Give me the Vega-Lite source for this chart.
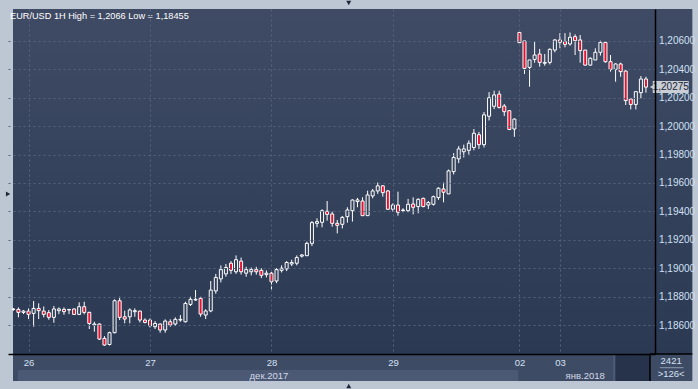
{
  "$schema": "https://vega.github.io/schema/vega-lite/v6.json",
  "width": 647,
  "height": 345,
  "autosize": {"type": "none"},
  "padding": {"left": 8, "top": 9, "right": 43, "bottom": 35},
  "background": "#bdc7d4",
  "config": {"view": {"stroke": null}, "axis": {"labelOverlap": false, "labelSeparation": 0}},
  "title": {"text": "EUR/USD 1H High = 1,2066 Low = 1,18455", "anchor": "start", "frame": "group", "orient": "top", "offset": -20, "dx": 2, "font": "Liberation Sans", "fontSize": 9.2, "fontWeight": "normal", "color": "#ffffff"},
  "data": {"values": [
    {"t":0,"o":1.18710,"h":1.18720,"l":1.18700,"c":1.18712},
    {"t":1,"o":1.18710,"h":1.18724,"l":1.18654,"c":1.18689},
    {"t":2,"o":1.18689,"h":1.18706,"l":1.18677,"c":1.18698},
    {"t":3,"o":1.18698,"h":1.18717,"l":1.18642,"c":1.18675},
    {"t":4,"o":1.18682,"h":1.18769,"l":1.18588,"c":1.18717},
    {"t":5,"o":1.18717,"h":1.18753,"l":1.18642,"c":1.18701},
    {"t":6,"o":1.18698,"h":1.18731,"l":1.18654,"c":1.18675},
    {"t":7,"o":1.18687,"h":1.18706,"l":1.18637,"c":1.18654},
    {"t":8,"o":1.18654,"h":1.18734,"l":1.18616,"c":1.18713},
    {"t":9,"o":1.18701,"h":1.18724,"l":1.18677,"c":1.18713},
    {"t":10,"o":1.18710,"h":1.18724,"l":1.18672,"c":1.18694},
    {"t":11,"o":1.18706,"h":1.18711,"l":1.18677,"c":1.18710},
    {"t":12,"o":1.18713,"h":1.18717,"l":1.18670,"c":1.18675},
    {"t":13,"o":1.18675,"h":1.18760,"l":1.18670,"c":1.18729},
    {"t":14,"o":1.18729,"h":1.18764,"l":1.18675,"c":1.18689},
    {"t":15,"o":1.18689,"h":1.18694,"l":1.18572,"c":1.18611},
    {"t":16,"o":1.18600,"h":1.18623,"l":1.18553,"c":1.18607},
    {"t":17,"o":1.18607,"h":1.18612,"l":1.18494,"c":1.18501},
    {"t":18,"o":1.18506,"h":1.18522,"l":1.18455,"c":1.18459},
    {"t":19,"o":1.18463,"h":1.18553,"l":1.18456,"c":1.18546},
    {"t":20,"o":1.18546,"h":1.18781,"l":1.18541,"c":1.18771},
    {"t":21,"o":1.18771,"h":1.18799,"l":1.18635,"c":1.18654},
    {"t":22,"o":1.18658,"h":1.18701,"l":1.18612,"c":1.18642},
    {"t":23,"o":1.18658,"h":1.18717,"l":1.18612,"c":1.18706},
    {"t":24,"o":1.18694,"h":1.18717,"l":1.18658,"c":1.18701},
    {"t":25,"o":1.18698,"h":1.18701,"l":1.18618,"c":1.18635},
    {"t":26,"o":1.18635,"h":1.18647,"l":1.18612,"c":1.18618},
    {"t":27,"o":1.18635,"h":1.18647,"l":1.18583,"c":1.18595},
    {"t":28,"o":1.18588,"h":1.18628,"l":1.18572,"c":1.18611},
    {"t":29,"o":1.18607,"h":1.18611,"l":1.18546,"c":1.18565},
    {"t":30,"o":1.18565,"h":1.18640,"l":1.18546,"c":1.18628},
    {"t":31,"o":1.18623,"h":1.18640,"l":1.18588,"c":1.18600},
    {"t":32,"o":1.18607,"h":1.18654,"l":1.18593,"c":1.18640},
    {"t":33,"o":1.18635,"h":1.18670,"l":1.18623,"c":1.18640},
    {"t":34,"o":1.18623,"h":1.18764,"l":1.18618,"c":1.18752},
    {"t":35,"o":1.18745,"h":1.18799,"l":1.18734,"c":1.18781},
    {"t":36,"o":1.18776,"h":1.18846,"l":1.18771,"c":1.18781},
    {"t":37,"o":1.18788,"h":1.18799,"l":1.18658,"c":1.18677},
    {"t":38,"o":1.18670,"h":1.18711,"l":1.18642,"c":1.18699},
    {"t":39,"o":1.18699,"h":1.18910,"l":1.18690,"c":1.18846},
    {"t":40,"o":1.18840,"h":1.18960,"l":1.18820,"c":1.18935},
    {"t":41,"o":1.18925,"h":1.19020,"l":1.18900,"c":1.18990},
    {"t":42,"o":1.18960,"h":1.19030,"l":1.18940,"c":1.19005},
    {"t":43,"o":1.19035,"h":1.19050,"l":1.18960,"c":1.18985},
    {"t":44,"o":1.18975,"h":1.19090,"l":1.18960,"c":1.19060},
    {"t":45,"o":1.19050,"h":1.19075,"l":1.18955,"c":1.18975},
    {"t":46,"o":1.18965,"h":1.19010,"l":1.18940,"c":1.18990},
    {"t":47,"o":1.18975,"h":1.19005,"l":1.18950,"c":1.18990},
    {"t":48,"o":1.18990,"h":1.19010,"l":1.18955,"c":1.18975},
    {"t":49,"o":1.18985,"h":1.19000,"l":1.18930,"c":1.18950},
    {"t":50,"o":1.18955,"h":1.18985,"l":1.18935,"c":1.18965},
    {"t":51,"o":1.18965,"h":1.18975,"l":1.18850,"c":1.18905},
    {"t":52,"o":1.18910,"h":1.19000,"l":1.18895,"c":1.18990},
    {"t":53,"o":1.18985,"h":1.19020,"l":1.18970,"c":1.19000},
    {"t":54,"o":1.18995,"h":1.19050,"l":1.18980,"c":1.19040},
    {"t":55,"o":1.19030,"h":1.19060,"l":1.19015,"c":1.19040},
    {"t":56,"o":1.19035,"h":1.19090,"l":1.19020,"c":1.19075},
    {"t":57,"o":1.19085,"h":1.19100,"l":1.19075,"c":1.19093},
    {"t":58,"o":1.19088,"h":1.19187,"l":1.19088,"c":1.19175},
    {"t":59,"o":1.19175,"h":1.19332,"l":1.19156,"c":1.19321},
    {"t":60,"o":1.19316,"h":1.19351,"l":1.19288,"c":1.19328},
    {"t":61,"o":1.19323,"h":1.19415,"l":1.19288,"c":1.19405},
    {"t":62,"o":1.19401,"h":1.19473,"l":1.19335,"c":1.19379},
    {"t":63,"o":1.19382,"h":1.19398,"l":1.19292,"c":1.19316},
    {"t":64,"o":1.19316,"h":1.19340,"l":1.19245,"c":1.19302},
    {"t":65,"o":1.19309,"h":1.19368,"l":1.19280,"c":1.19358},
    {"t":66,"o":1.19363,"h":1.19429,"l":1.19321,"c":1.19410},
    {"t":67,"o":1.19405,"h":1.19485,"l":1.19328,"c":1.19480},
    {"t":68,"o":1.19469,"h":1.19495,"l":1.19429,"c":1.19481},
    {"t":69,"o":1.19473,"h":1.19499,"l":1.19370,"c":1.19370},
    {"t":70,"o":1.19370,"h":1.19546,"l":1.19370,"c":1.19516},
    {"t":71,"o":1.19509,"h":1.19558,"l":1.19492,"c":1.19544},
    {"t":72,"o":1.19544,"h":1.19603,"l":1.19523,"c":1.19580},
    {"t":73,"o":1.19580,"h":1.19584,"l":1.19504,"c":1.19532},
    {"t":74,"o":1.19544,"h":1.19551,"l":1.19410,"c":1.19415},
    {"t":75,"o":1.19415,"h":1.19457,"l":1.19398,"c":1.19445},
    {"t":76,"o":1.19445,"h":1.19539,"l":1.19370,"c":1.19394},
    {"t":77,"o":1.19406,"h":1.19422,"l":1.19394,"c":1.19410},
    {"t":78,"o":1.19405,"h":1.19488,"l":1.19394,"c":1.19450},
    {"t":79,"o":1.19452,"h":1.19499,"l":1.19379,"c":1.19429},
    {"t":80,"o":1.19434,"h":1.19492,"l":1.19387,"c":1.19485},
    {"t":81,"o":1.19492,"h":1.19497,"l":1.19429,"c":1.19434},
    {"t":82,"o":1.19445,"h":1.19473,"l":1.19417,"c":1.19462},
    {"t":83,"o":1.19450,"h":1.19511,"l":1.19441,"c":1.19504},
    {"t":84,"o":1.19497,"h":1.19570,"l":1.19481,"c":1.19563},
    {"t":85,"o":1.19558,"h":1.19603,"l":1.19464,"c":1.19535},
    {"t":86,"o":1.19523,"h":1.19695,"l":1.19523,"c":1.19685},
    {"t":87,"o":1.19680,"h":1.19810,"l":1.19660,"c":1.19780},
    {"t":88,"o":1.19770,"h":1.19860,"l":1.19740,"c":1.19840},
    {"t":89,"o":1.19820,"h":1.19870,"l":1.19780,"c":1.19840},
    {"t":90,"o":1.19830,"h":1.19900,"l":1.19800,"c":1.19880},
    {"t":91,"o":1.19850,"h":1.19980,"l":1.19830,"c":1.19950},
    {"t":92,"o":1.19940,"h":1.19960,"l":1.19840,"c":1.19870},
    {"t":93,"o":1.19870,"h":1.20100,"l":1.19850,"c":1.20080},
    {"t":94,"o":1.20070,"h":1.20240,"l":1.20040,"c":1.20200},
    {"t":95,"o":1.20140,"h":1.20250,"l":1.20120,"c":1.20220},
    {"t":96,"o":1.20226,"h":1.20250,"l":1.20125,"c":1.20132},
    {"t":97,"o":1.20142,"h":1.20156,"l":1.20071,"c":1.20102},
    {"t":98,"o":1.20109,"h":1.20113,"l":1.19972,"c":1.19977},
    {"t":99,"o":1.19980,"h":1.20055,"l":1.19925,"c":1.20050},
    {"t":100,"o":1.20660,"h":1.20660,"l":1.20588,"c":1.20588},
    {"t":101,"o":1.20600,"h":1.20600,"l":1.20367,"c":1.20407},
    {"t":102,"o":1.20414,"h":1.20466,"l":1.20278,"c":1.20466},
    {"t":103,"o":1.20470,"h":1.20600,"l":1.20447,"c":1.20501},
    {"t":104,"o":1.20508,"h":1.20544,"l":1.20419,"c":1.20449},
    {"t":105,"o":1.20443,"h":1.20508,"l":1.20426,"c":1.20449},
    {"t":106,"o":1.20449,"h":1.20548,"l":1.20435,"c":1.20541},
    {"t":107,"o":1.20536,"h":1.20614,"l":1.20520,"c":1.20607},
    {"t":108,"o":1.20607,"h":1.20655,"l":1.20548,"c":1.20591},
    {"t":109,"o":1.20595,"h":1.20655,"l":1.20555,"c":1.20576},
    {"t":110,"o":1.20579,"h":1.20660,"l":1.20567,"c":1.20626},
    {"t":111,"o":1.20630,"h":1.20647,"l":1.20501,"c":1.20602},
    {"t":112,"o":1.20607,"h":1.20642,"l":1.20447,"c":1.20532},
    {"t":113,"o":1.20536,"h":1.20536,"l":1.20426,"c":1.20430},
    {"t":114,"o":1.20430,"h":1.20485,"l":1.20426,"c":1.20478},
    {"t":115,"o":1.20466,"h":1.20548,"l":1.20466,"c":1.20520},
    {"t":116,"o":1.20520,"h":1.20602,"l":1.20497,"c":1.20590},
    {"t":117,"o":1.20590,"h":1.20595,"l":1.20447,"c":1.20454},
    {"t":118,"o":1.20454,"h":1.20501,"l":1.20384,"c":1.20400},
    {"t":119,"o":1.20400,"h":1.20442,"l":1.20313,"c":1.20438},
    {"t":120,"o":1.20438,"h":1.20447,"l":1.20348,"c":1.20384},
    {"t":121,"o":1.20388,"h":1.20395,"l":1.20149,"c":1.20180},
    {"t":122,"o":1.20191,"h":1.20196,"l":1.20118,"c":1.20153},
    {"t":123,"o":1.20153,"h":1.20247,"l":1.20118,"c":1.20243},
    {"t":124,"o":1.20236,"h":1.20353,"l":1.20196,"c":1.20332},
    {"t":125,"o":1.20332,"h":1.20348,"l":1.20236,"c":1.20275}
  ]},
  "layer": [
    {
      "data": {"values": [{}]},
      "mark": {"type": "rect", "clip": false, "fill": {"gradient": "linear", "x1": 0, "y1": 0, "x2": 0, "y2": 1, "stops": [{"offset": 0, "color": "#3f4b64"}, {"offset": 1, "color": "#2b3953"}]}},
      "encoding": {"x": {"datum": -0.074, "type": "quantitative"}, "x2": {"datum": 134.17}, "y": {"datum": 1.20825, "type": "quantitative"}, "y2": {"datum": 1.18396}}
    },
    {
      "data": {"values": [{}]},
      "mark": {"type": "rect", "clip": false, "fill": "#3e4b65"},
      "encoding": {"x": {"datum": -0.074, "type": "quantitative"}, "x2": {"datum": 134.17}, "y": {"datum": 1.18396, "type": "quantitative"}, "y2": {"datum": 1.182059}}
    },
    {
      "data": {"values": [{}]},
      "mark": {"type": "rect", "clip": false, "fill": "#4b5975"},
      "encoding": {"x": {"datum": 0.9, "type": "quantitative"}, "x2": {"datum": 99.73}, "y": {"datum": 1.182833, "type": "quantitative"}, "y2": {"datum": 1.182059}}
    },
    {
      "data": {"values": [{}]},
      "mark": {"type": "rect", "clip": false, "fill": "#27334a"},
      "encoding": {"x": {"datum": 118.99, "type": "quantitative"}, "x2": {"datum": 125.8}, "y": {"datum": 1.18389, "type": "quantitative"}, "y2": {"datum": 1.182059}}
    },
    {
      "data": {"values": [{}]},
      "mark": {"type": "rule", "clip": false, "color": "#5d6983", "strokeWidth": 1},
      "encoding": {"x": {"datum": 118.7, "type": "quantitative"}, "y": {"datum": 1.18389, "type": "quantitative"}, "y2": {"datum": 1.182059}}
    },
    {
      "data": {"values": [{}]},
      "mark": {"type": "rule", "clip": false, "color": "#000000", "strokeWidth": 1.5},
      "encoding": {"x": {"datum": 125.8, "type": "quantitative"}, "y": {"datum": 1.18396, "type": "quantitative"}, "y2": {"datum": 1.182059}}
    },
    {
      "data": {"values": [{}]},
      "mark": {"type": "rule", "clip": false, "color": "#000000", "strokeWidth": 1.5},
      "encoding": {"x": {"datum": 125.8, "type": "quantitative"}, "x2": {"datum": 134.17}, "y": {"datum": 1.18396, "type": "quantitative"}}
    },
    {
      "mark": {"type": "rule", "clip": true, "color": "#ffffff", "strokeWidth": 1},
      "encoding": {"x": {"field": "t", "type": "quantitative"}, "y": {"field": "l", "type": "quantitative"}, "y2": {"field": "h"}}
    },
    {
      "mark": {"type": "bar", "clip": true, "width": 3, "stroke": "#ffffff", "strokeWidth": 1},
      "encoding": {
        "x": {"field": "t", "type": "quantitative", "scale": {"domain": [-0.074, 125.8], "nice": false, "zero": false},
          "axis": {"values": [3, 27, 51, 75, 100, 108], "tickCount": 20, "labelExpr": "datum.value==3?'26':datum.value==27?'27':datum.value==51?'28':datum.value==75?'29':datum.value==100?'02':'03'", "grid": true, "gridDash": [2, 3], "gridColor": "#56637c", "gridWidth": 1, "ticks": false, "domain": true, "domainColor": "#000000", "domainWidth": 1.5, "labelColor": "#d3e1f3", "labelFont": "Liberation Sans", "labelFontSize": 9.5, "labelPadding": 3, "labelFlush": false, "labelOverlap": false, "title": null, "zindex": 1}},
        "y": {"field": "o", "type": "quantitative", "scale": {"domain": [1.18396, 1.20825], "nice": false, "zero": false},
          "axis": {"orient": "right", "values": [1.186, 1.188, 1.19, 1.192, 1.194, 1.196, 1.198, 1.2, 1.202, 1.204, 1.206], "tickCount": 20, "labelExpr": "replace(format(datum.value, '.5f'), '.', ',')", "grid": true, "gridDash": [2, 3], "gridColor": "#56637c", "gridWidth": 1, "ticks": false, "domain": true, "domainColor": "#000000", "domainWidth": 1.5, "labelColor": "#cfe0f5", "labelFont": "Liberation Sans", "labelFontSize": 10, "labelPadding": 3.5, "labelFlush": false, "labelOverlap": false, "labelSeparation": 0, "labelBound": false, "title": null, "zindex": 1}},
        "y2": {"field": "c"},
        "fill": {"condition": {"test": "datum.c < datum.o", "value": "#e3122f"}, "value": "#344159"}
      }
    },
    {
      "data": {"values": [{}]},
      "mark": {"type": "point", "shape": "triangle-left", "clip": false, "filled": true, "color": "#c9cdd4", "size": 40, "opacity": 1},
      "encoding": {"x": {"datum": 126.3, "type": "quantitative"}, "y": {"datum": 1.20275, "type": "quantitative"}}
    },
    {
      "data": {"values": [{}]},
      "mark": {"type": "tick", "orient": "horizontal", "clip": false, "color": "#c9cdd4", "size": 36, "thickness": 12, "opacity": 1},
      "encoding": {"x": {"datum": 129.9, "type": "quantitative"}, "y": {"datum": 1.20275, "type": "quantitative"}}
    },
    {
      "data": {"values": [{}]},
      "mark": {"type": "text", "clip": false, "text": "1,20275", "color": "#1b2538", "font": "Liberation Sans", "fontSize": 10, "align": "center", "baseline": "middle"},
      "encoding": {"x": {"datum": 129.9, "type": "quantitative"}, "y": {"datum": 1.20275, "type": "quantitative"}}
    },
    {
      "data": {"values": [{}]},
      "mark": {"type": "text", "clip": false, "text": "дек.2017", "color": "#d3dae6", "font": "Liberation Sans", "fontSize": 9.5, "align": "center", "baseline": "middle"},
      "encoding": {"x": {"datum": 50.5, "type": "quantitative"}, "y": {"datum": 1.182446, "type": "quantitative"}}
    },
    {
      "data": {"values": [{}]},
      "mark": {"type": "text", "clip": false, "text": "янв.2018", "color": "#d3dae6", "font": "Liberation Sans", "fontSize": 9.5, "align": "center", "baseline": "middle"},
      "encoding": {"x": {"datum": 113.0, "type": "quantitative"}, "y": {"datum": 1.182446, "type": "quantitative"}}
    },
    {
      "data": {"values": [{}]},
      "mark": {"type": "text", "clip": false, "text": "2421", "color": "#d3e1f3", "font": "Liberation Sans", "fontSize": 9.5, "align": "center", "baseline": "middle"},
      "encoding": {"x": {"datum": 129.98, "type": "quantitative"}, "y": {"datum": 1.183432, "type": "quantitative"}}
    },
    {
      "data": {"values": [{}]},
      "mark": {"type": "text", "clip": false, "text": ">126<", "color": "#d3e1f3", "font": "Liberation Sans", "fontSize": 9.5, "align": "center", "baseline": "middle"},
      "encoding": {"x": {"datum": 129.98, "type": "quantitative"}, "y": {"datum": 1.182552, "type": "quantitative"}}
    },
    {
      "data": {"values": [{}]},
      "mark": {"type": "rule", "clip": false, "color": "#8e9bb0", "strokeWidth": 1},
      "encoding": {"x": {"datum": 127.75, "type": "quantitative"}, "x2": {"datum": 132.42}, "y": {"datum": 1.182995, "type": "quantitative"}}
    },
    {
      "data": {"values": [{}]},
      "mark": {"type": "point", "shape": "triangle-down", "clip": false, "filled": true, "color": "#1f2737", "size": 25, "opacity": 1},
      "encoding": {"x": {"datum": 66.27, "type": "quantitative"}, "y": {"datum": 1.20867, "type": "quantitative"}}
    },
    {
      "data": {"values": [{}]},
      "mark": {"type": "point", "shape": "triangle-up", "clip": false, "filled": true, "color": "#1f2737", "size": 25, "opacity": 1},
      "encoding": {"x": {"datum": 66.27, "type": "quantitative"}, "y": {"datum": 1.181707, "type": "quantitative"}}
    },
    {
      "data": {"values": [{}]},
      "mark": {"type": "point", "shape": "triangle-right", "clip": false, "filled": true, "color": "#1f2737", "size": 25, "opacity": 1},
      "encoding": {"x": {"datum": -1.047, "type": "quantitative"}, "y": {"datum": 1.19523, "type": "quantitative"}}
    }
  ]
}
